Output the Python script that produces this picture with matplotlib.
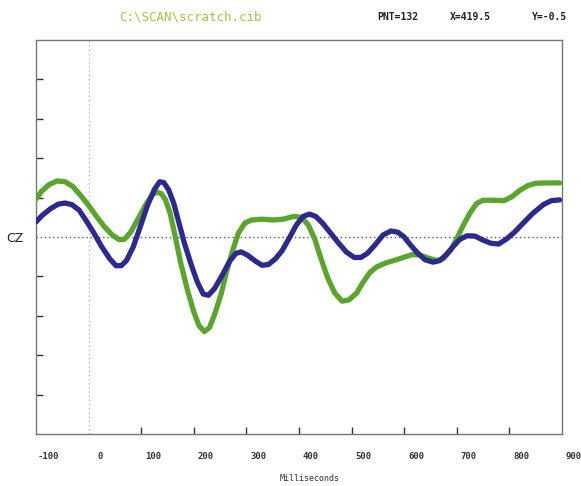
import matplotlib
matplotlib.use('Agg')
import matplotlib.pyplot as plt
from matplotlib.transforms import offset_copy

# waveform samples (ms, uV)
green_ms = [-100, -90, -75, -60, -45, -30, -15, 0, 15, 30, 45, 58, 68, 80, 95, 110, 122,
            130, 138, 146, 155, 165, 175, 188, 200, 210, 220, 230, 240, 252, 263, 275,
            285, 297, 310, 330, 350, 370, 390, 405, 418, 430, 442, 455, 468, 482, 495,
            510, 522, 535, 548, 565, 590, 615, 630, 645, 662, 675, 688, 700, 712, 725,
            738, 750, 770, 790, 805, 820, 835, 850, 870, 896]
green_uv = [0.96, 1.15, 1.33, 1.42, 1.40, 1.28, 1.05, 0.80, 0.52, 0.26, 0.05, -0.07,
            -0.06, 0.12, 0.48, 0.85, 1.08, 1.14, 1.10, 0.95, 0.60, 0.0, -0.65, -1.35,
            -1.90, -2.25, -2.40, -2.30, -1.95, -1.45, -0.85, -0.30, 0.10, 0.35, 0.43,
            0.45, 0.43, 0.45, 0.52, 0.50, 0.30, -0.05, -0.55, -1.05, -1.42, -1.63, -1.60,
            -1.42, -1.15, -0.90, -0.76, -0.66, -0.56, -0.45, -0.46, -0.53, -0.60, -0.55,
            -0.35, -0.05, 0.28, 0.60, 0.85, 0.93, 0.93, 0.92, 1.02, 1.18, 1.30, 1.36,
            1.37, 1.37]

blue_ms = [-100, -88, -72, -58, -45, -32, -18, -5, 10, 25, 40, 52, 62, 72, 85, 98, 112,
           125, 135, 143, 152, 162, 172, 182, 195, 207, 218, 228, 240, 255, 268, 280,
           290, 302, 318, 330, 342, 355, 368, 382, 395, 408, 420, 432, 445, 460, 475,
           490, 505, 518, 530, 545, 560, 575, 588, 600, 612, 625, 640, 655, 668, 680,
           693, 706, 720, 735, 750, 765, 780, 795, 810, 825, 845, 865, 880, 896]
blue_uv = [0.38, 0.55, 0.72, 0.83, 0.86, 0.82, 0.68, 0.42, 0.10, -0.25, -0.55, -0.73,
           -0.73, -0.60, -0.25, 0.25, 0.80, 1.20, 1.40, 1.38, 1.20, 0.85, 0.35, -0.15,
           -0.70, -1.15, -1.45, -1.48, -1.30, -0.95, -0.62, -0.42, -0.38, -0.46, -0.62,
           -0.72, -0.70, -0.56, -0.35, -0.02, 0.30, 0.52, 0.58, 0.52, 0.35, 0.10, -0.15,
           -0.38, -0.52, -0.52, -0.42, -0.20, 0.05, 0.15, 0.12, 0.0, -0.20, -0.40, -0.58,
           -0.64, -0.60, -0.45, -0.25, -0.06, 0.03, 0.02, -0.08, -0.16, -0.18, -0.05,
           0.12, 0.33, 0.60, 0.82, 0.92, 0.94]

xtick_labels = [-100, 0, 100, 200, 300, 400, 500, 600, 700, 800, 900]
xtick_marks = [100, 200, 300, 400, 500, 600, 700, 800]
ytick_marks = [-4, -3, -2, -1, 1, 2, 3, 4]

fig = plt.figure(figsize=(5.81, 4.86), dpi=100)
ax = fig.add_axes([0.062, 0.107, 0.905, 0.811])

ax.plot(green_ms, green_uv, color='#5aa52c', lw=3.8, solid_joinstyle='round',
        solid_capstyle='round', zorder=3)
ax.plot(blue_ms, blue_uv, color='#2c2a8e', lw=3.8, solid_joinstyle='round',
        solid_capstyle='round', zorder=4)

ax.axhline(0, color='#555555', lw=1.0, ls=(0, (1, 2)), zorder=2)
ax.axvline(0, color='#bbbbbb', lw=1.0, ls=(0, (1, 2)), zorder=1)

ax.set_xlim(-100, 900)
ax.set_ylim(-5, 5)

for s in ax.spines.values():
    s.set_color('#777777')
    s.set_linewidth(1.0)

ax.set_xticks(xtick_marks)
ax.set_yticks(ytick_marks)
ax.tick_params(axis='both', direction='in', length=5, width=1, color='#333333',
               labelbottom=False, labelleft=False)

# labels sit a bit to the right of the tick marks, as on the screen
trans = offset_copy(ax.get_xaxis_transform(), fig=fig, x=12, y=0, units='dots')
for v in xtick_labels:
    ax.text(v, -0.045, str(v), transform=trans, ha='center', va='top',
            fontsize=6.5, family='DejaVu Sans Mono', fontweight='bold', color='#333333',
            clip_on=False)

fig.text(310 / 581, 1 - 478 / 486, 'Milliseconds', ha='center', va='center',
         fontsize=6, family='DejaVu Sans Mono', color='#333333')
fig.text(15 / 581, 1 - 238 / 486, 'CZ', ha='center', va='center', fontsize=9,
         color='#222222')

fig.text(190 / 581, 1 - 17 / 486, 'C:\\SCAN\\scratch.cib', ha='center', va='center',
         fontsize=9, family='DejaVu Sans Mono', color='#a8c43c')
fig.text(398 / 581, 1 - 17 / 486, 'PNT=132', ha='center', va='center', fontsize=7,
         family='DejaVu Sans Mono', fontweight='bold', color='#222222')
fig.text(470 / 581, 1 - 17 / 486, 'X=419.5', ha='center', va='center', fontsize=7,
         family='DejaVu Sans Mono', fontweight='bold', color='#222222')
fig.text(550 / 581, 1 - 17 / 486, 'Y=-0.5', ha='center', va='center', fontsize=7,
         family='DejaVu Sans Mono', fontweight='bold', color='#222222')

fig.savefig('out.png', dpi=100)
